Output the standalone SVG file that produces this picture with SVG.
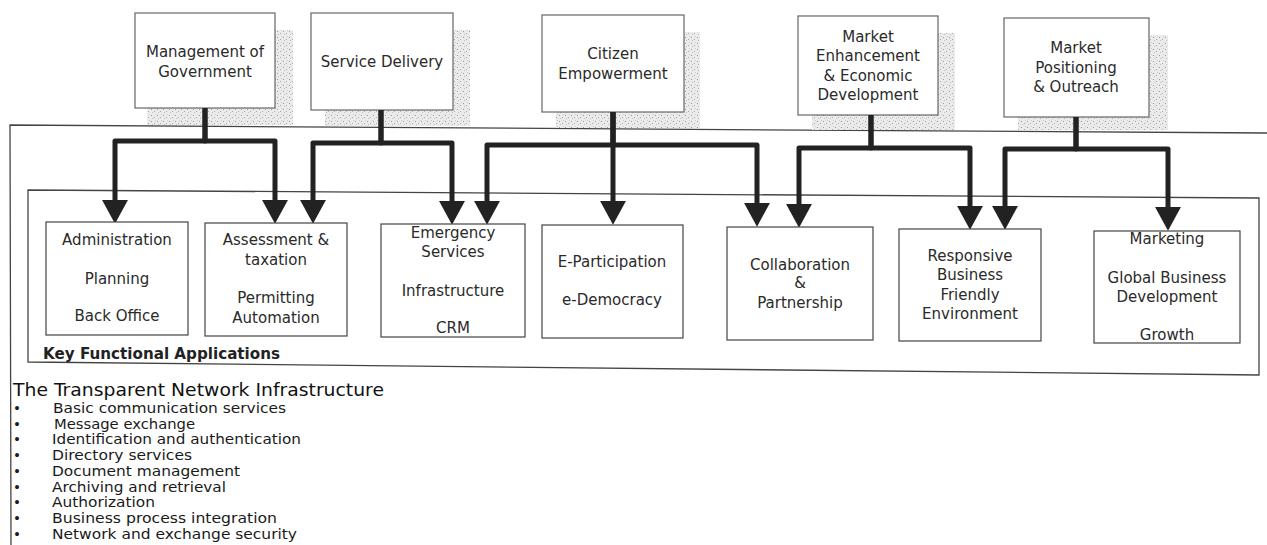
<svg xmlns="http://www.w3.org/2000/svg" width="1267" height="545" viewBox="0 0 1267 545">
<defs>
<pattern id="stip" width="6" height="6" patternUnits="userSpaceOnUse">
<rect width="6" height="6" fill="#ebebeb"/>
<rect x="1" y="1" width="1" height="1" fill="#9a9a9a"/>
<rect x="4" y="3" width="1" height="1" fill="#aaa"/>
<rect x="2" y="4" width="1" height="1" fill="#bdbdbd"/>
<rect x="5" y="0" width="1" height="1" fill="#cbcbcb"/>
</pattern>
<marker id="ah" markerUnits="userSpaceOnUse" markerWidth="26" markerHeight="28" refX="0" refY="13" orient="auto" viewBox="0 0 24 26">
<path d="M0,1 L22,13 L0,25 Z" fill="#222"/>
</marker>
</defs>
<style>
.box{fill:#fff;stroke:#444;stroke-width:1.2}
.tbox{fill:#fff;stroke:#666;stroke-width:1.2}
.shadow{fill:url(#stip)}
.t{font-family:"DejaVu Sans",Verdana,sans-serif;font-size:15px;fill:#2a2a2a;text-anchor:middle}
.frame{fill:none;stroke:#444;stroke-width:1.3}
.conn{fill:none;stroke:#222;stroke-width:5;stroke-linejoin:round;marker-end:url(#ah)}
.lbl{font-family:"DejaVu Sans",Verdana,sans-serif;font-size:15px;font-weight:bold;fill:#222}
.ttl{font-family:"DejaVu Sans",Verdana,sans-serif;font-size:17px;fill:#111}
.li{font-family:"DejaVu Sans",Verdana,sans-serif;font-size:13.5px;fill:#1a1a1a}
</style>
<rect width="1267" height="545" fill="#fff"/>

<!-- frames -->
<g id="frames">
<path class="frame" d="M1267,133 L10,125 L11,545"/>
<path class="frame" d="M28,190 L1259,198 L1259,375 L28,362 Z"/>
</g>

<!-- top nodes -->
<g id="n-mgmt">
<rect class="shadow" x="147" y="30" width="146" height="95"/>
<rect class="tbox" x="135" y="13" width="140" height="95"/>
<text class="t" x="205" y="57">Management of</text>
<text class="t" x="205" y="77">Government</text>
</g>
<g id="n-service">
<rect class="shadow" x="325" y="30" width="145" height="96"/>
<rect class="tbox" x="311" y="13" width="142" height="97"/>
<text class="t" x="382" y="67">Service Delivery</text>
</g>
<g id="n-citizen">
<rect class="shadow" x="556" y="32" width="144" height="96"/>
<rect class="tbox" x="542" y="15" width="142" height="97"/>
<text class="t" x="613" y="59">Citizen</text>
<text class="t" x="613" y="79">Empowerment</text>
</g>
<g id="n-market-enh">
<rect class="shadow" x="812" y="33" width="143" height="97"/>
<rect class="tbox" x="798" y="16" width="140" height="99"/>
<text class="t" x="868" y="42">Market</text>
<text class="t" x="868" y="61">Enhancement</text>
<text class="t" x="868" y="81">&amp; Economic</text>
<text class="t" x="868" y="100">Development</text>
</g>
<g id="n-market-pos">
<rect class="shadow" x="1018" y="35" width="150" height="95"/>
<rect class="tbox" x="1004" y="18" width="145" height="99"/>
<text class="t" x="1076" y="53">Market</text>
<text class="t" x="1076" y="73">Positioning</text>
<text class="t" x="1076" y="92">&amp; Outreach</text>
</g>

<!-- connectors -->
<g id="connectors">
<path class="conn" d="M205,108 V141 H115 V200"/>
<path class="conn" d="M205,108 V141 H275 V200"/>
<path class="conn" d="M381,110 V143 H313 V200"/>
<path class="conn" d="M381,110 V143 H452 V201"/>
<path class="conn" d="M613,112 V145 H487 V201"/>
<path class="conn" d="M613,112 V201"/>
<path class="conn" d="M613,112 V145 H757 V203"/>
<path class="conn" d="M871,115 V148 H799 V204"/>
<path class="conn" d="M871,115 V148 H970 V206"/>
<path class="conn" d="M1076,117 V149 H1005 V206"/>
<path class="conn" d="M1076,117 V149 H1168 V207"/>
</g>

<!-- bottom nodes -->
<g id="n-admin">
<rect class="box" x="46" y="222" width="142" height="113"/>
<text class="t" x="117" y="245">Administration</text>
<text class="t" x="117" y="284">Planning</text>
<text class="t" x="117" y="321">Back Office</text>
</g>
<g id="n-assess">
<rect class="box" x="205" y="223" width="142" height="113"/>
<text class="t" x="276" y="245">Assessment &amp;</text>
<text class="t" x="276" y="265">taxation</text>
<text class="t" x="276" y="303">Permitting</text>
<text class="t" x="276" y="323">Automation</text>
</g>
<g id="n-emergency">
<rect class="box" x="381" y="224" width="144" height="113"/>
<text class="t" x="453" y="238">Emergency</text>
<text class="t" x="453" y="257">Services</text>
<text class="t" x="453" y="296">Infrastructure</text>
<text class="t" x="453" y="333">CRM</text>
</g>
<g id="n-eparticipation">
<rect class="box" x="542" y="225" width="141" height="113"/>
<text class="t" x="612" y="267">E-Participation</text>
<text class="t" x="612" y="305">e-Democracy</text>
</g>
<g id="n-collab">
<rect class="box" x="727" y="227" width="146" height="113"/>
<text class="t" x="800" y="270">Collaboration</text>
<text class="t" x="800" y="288">&amp;</text>
<text class="t" x="800" y="308">Partnership</text>
</g>
<g id="n-responsive">
<rect class="box" x="899" y="229" width="142" height="112"/>
<text class="t" x="970" y="261">Responsive</text>
<text class="t" x="970" y="280">Business</text>
<text class="t" x="970" y="300">Friendly</text>
<text class="t" x="970" y="319">Environment</text>
</g>
<g id="n-marketing">
<rect class="box" x="1094" y="231" width="146" height="112"/>
<text class="t" x="1167" y="244">Marketing</text>
<text class="t" x="1167" y="283">Global Business</text>
<text class="t" x="1167" y="302">Development</text>
<text class="t" x="1167" y="340">Growth</text>
</g>

<g id="label-kfa">
<text class="lbl" x="43" y="359" textLength="237" lengthAdjust="spacingAndGlyphs">Key Functional Applications</text>
</g>

<!-- infrastructure list -->
<g id="infrastructure">
<text class="ttl" x="13" y="396" textLength="371" lengthAdjust="spacingAndGlyphs">The Transparent Network Infrastructure</text>
<g class="li">
<text x="13" y="413">•</text><text x="53" y="413" textLength="233" lengthAdjust="spacingAndGlyphs">Basic communication services</text>
<text x="13" y="429">•</text><text x="54" y="429" textLength="141" lengthAdjust="spacingAndGlyphs">Message exchange</text>
<text x="13" y="444">•</text><text x="52" y="444" textLength="249" lengthAdjust="spacingAndGlyphs">Identification and authentication</text>
<text x="13" y="460">•</text><text x="52" y="460" textLength="140" lengthAdjust="spacingAndGlyphs">Directory services</text>
<text x="13" y="476">•</text><text x="52" y="476" textLength="188" lengthAdjust="spacingAndGlyphs">Document management</text>
<text x="13" y="492">•</text><text x="52" y="492" textLength="174" lengthAdjust="spacingAndGlyphs">Archiving and retrieval</text>
<text x="13" y="507">•</text><text x="52" y="507" textLength="103" lengthAdjust="spacingAndGlyphs">Authorization</text>
<text x="13" y="523">•</text><text x="52" y="523" textLength="225" lengthAdjust="spacingAndGlyphs">Business process integration</text>
<text x="13" y="539">•</text><text x="52" y="539" textLength="245" lengthAdjust="spacingAndGlyphs">Network and exchange security</text>
</g>
</g>
</svg>
